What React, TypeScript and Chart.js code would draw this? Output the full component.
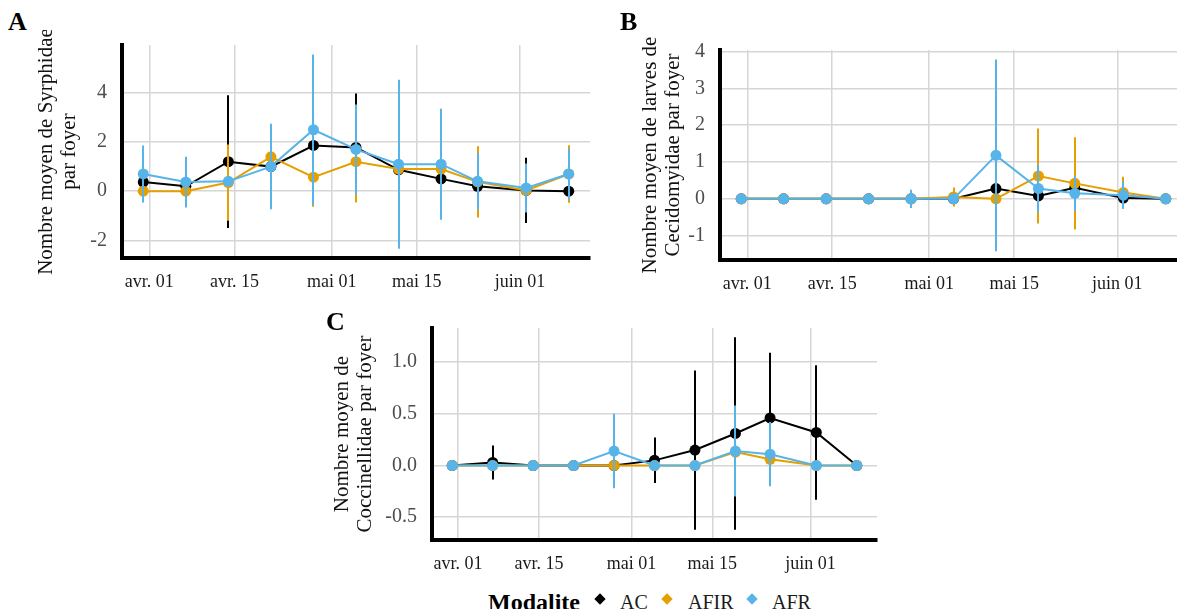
import React, { useEffect, useRef } from 'react';
import { Chart, registerables } from 'chart.js';

Chart.register(...registerables);

// ---------- data ----------
const sampleDates = [
  '2021-03-31', '2021-04-07', '2021-04-14', '2021-04-21', '2021-04-28', '2021-05-05',
  '2021-05-12', '2021-05-19', '2021-05-25', '2021-06-02', '2021-06-09',
];
const tickDates = ['2021-04-01', '2021-04-15', '2021-05-01', '2021-05-15', '2021-06-01'];
const tickLabels = ['avr. 01', 'avr. 15', 'mai 01', 'mai 15', 'juin 01'];

const seriesNames = ['AC', 'AFIR', 'AFR'];
const seriesColors = ['#000000', '#E69F00', '#56B4E9'];

// A: Syrphidae
const syrphAC = [0.37, 0.2, 1.2, 1.0, 1.86, 1.78, 0.87, 0.5, 0.2, 0.03, 0];
const syrphACsd = [0.6, 0.4, 2.7, 1.5, 2.4, 2.2, 2.0, 1.1, 0.6, 1.33, 0];
const syrphAFIR = [0, 0, 0.35, 1.4, 0.57, 1.2, 0.9, 0.9, 0.38, 0.03, 0.7];
const syrphAFIRsd = [0, 0, 1.55, 1.3, 1.2, 1.66, 1.5, 1.5, 1.45, 0.8, 1.17];
const syrphAFR = [0.7, 0.37, 0.4, 1.0, 2.5, 1.7, 1.1, 1.1, 0.4, 0.13, 0.7];
const syrphAFRsd = [1.16, 1.03, 0, 1.74, 3.06, 1.83, 3.44, 2.26, 1.15, 1.0, 1.04];
const syrphYTicks = [-2, 0, 2, 4];

// B: Cecidomyidae larvae
const cecidAC = [0, 0, 0, 0, 0, 0, 0.28, 0.08, 0.3, 0.02, 0];
const cecidACsd = [0, 0, 0, 0, 0, 0, 0.9, 0.4, 0.6, 0.15, 0];
const cecidAFIR = [0, 0, 0, 0, 0, 0.05, 0, 0.62, 0.42, 0.17, 0];
const cecidAFIRsd = [0, 0, 0, 0, 0.2, 0.26, 0, 1.29, 1.25, 0.43, 0];
const cecidAFR = [0, 0, 0, 0, 0, 0, 1.18, 0.28, 0.15, 0.1, 0];
const cecidAFRsd = [0, 0, 0, 0, 0.25, 0, 2.6, 0.64, 0.47, 0.37, 0];
const cecidYTicks = [-1, 0, 1, 2, 3, 4];

// C: Coccinellidae
const coccAC = [0, 0.03, 0, 0, 0, 0.05, 0.15, 0.31, 0.46, 0.32, 0];
const coccACsd = [0, 0.165, 0, 0, 0, 0.22, 0.77, 0.93, 0.63, 0.65, 0];
const coccAFIR = [0, 0, 0, 0, 0, 0, 0, 0.13, 0.06, 0, 0];
const coccAFIRsd = [0, 0, 0, 0, 0, 0, 0, 0.35, 0.2, 0, 0];
const coccAFR = [0, 0, 0, 0, 0.14, 0, 0, 0.14, 0.11, 0, 0];
const coccAFRsd = [0, 0, 0, 0, 0.36, 0, 0, 0.44, 0.31, 0, 0];
const coccYTicks = [-0.5, 0, 0.5, 1.0];

// ---------- helpers ----------
const FONT = "'Liberation Serif', 'Times New Roman', serif";
const dayOf = (iso: string) => {
  const [y, m, d] = iso.split('-').map(Number);
  return (Date.UTC(y, m - 1, d) - Date.UTC(2021, 3, 1)) / 86400000;
};
const sampleDays = sampleDates.map(dayOf);
const tickDays = tickDates.map(dayOf);

const errorBarPlugin = {
  id: 'errorBars',
  beforeDatasetDraw(chart: any, args: any) {
    const ds = chart.data.datasets[args.index];
    const sd: number[] = ds.sd;
    if (!sd) return;
    const { ctx, chartArea, scales } = chart;
    const xs = scales.x;
    const ys = scales.y;
    ctx.save();
    ctx.beginPath();
    ctx.rect(chartArea.left, chartArea.top, chartArea.right - chartArea.left, chartArea.bottom - chartArea.top);
    ctx.clip();
    ctx.strokeStyle = ds.borderColor;
    ctx.lineWidth = 2;
    ctx.lineCap = 'butt';
    ds.data.forEach((p: any, i: number) => {
      const e = sd[i];
      if (!e) return;
      const px = Math.round(xs.getPixelForValue(p.x));
      ctx.beginPath();
      ctx.moveTo(px, ys.getPixelForValue(p.y - e));
      ctx.lineTo(px, ys.getPixelForValue(p.y + e));
      ctx.stroke();
    });
    ctx.restore();
  },
};

type Panel = {
  title: string[];
  means: number[][];
  sds: number[][];
  yMin: number;
  yMax: number;
  yTicks: number[];
  yDec: number;
  xMin: number;
  xMax: number;
  box: { left: number; top: number; width: number; height: number };
  area: { left: number; top: number; right: number; bottom: number };
  titlePad: number;
};

const panels: Panel[] = [
  {
    title: ['Nombre moyen de Syrphidae', 'par foyer'],
    means: [syrphAC, syrphAFIR, syrphAFR],
    sds: [syrphACsd, syrphAFIRsd, syrphAFRsd],
    yMin: -2.72, yMax: 5.95, yTicks: syrphYTicks, yDec: 0,
    xMin: -4.5, xMax: 72.5,
    box: { left: 30, top: 30, width: 570, height: 275 },
    area: { left: 122, top: 45, right: 590, bottom: 258 },
    titlePad: 5,
  },
  {
    title: ['Nombre moyen de larves de', 'Cecidomyidae par foyer'],
    means: [cecidAC, cecidAFIR, cecidAFR],
    sds: [cecidACsd, cecidAFIRsd, cecidAFRsd],
    yMin: -1.66, yMax: 4.04, yTicks: cecidYTicks, yDec: 0,
    xMin: -4.5, xMax: 72.5,
    box: { left: 630, top: 30, width: 570, height: 275 },
    area: { left: 720, top: 50, right: 1187, bottom: 260 },
    titlePad: 9,
  },
  {
    title: ['Nombre moyen de', 'Coccinellidae par foyer'],
    means: [coccAC, coccAFIR, coccAFR],
    sds: [coccACsd, coccAFIRsd, coccAFRsd],
    yMin: -0.72, yMax: 1.33, yTicks: coccYTicks, yDec: 1,
    xMin: -4.5, xMax: 72.5,
    box: { left: 322, top: 315, width: 563, height: 262 },
    area: { left: 432, top: 328, right: 877, bottom: 540 },
    titlePad: 9,
  },
];

function makeConfig(p: Panel): any {
  const yWidth = p.area.left - p.box.left;
  const xHeight = p.box.top + p.box.height - p.area.bottom;
  const padTop = p.area.top - p.box.top;
  const padRight = p.box.left + p.box.width - p.area.right;
  return {
    type: 'line',
    data: {
      datasets: seriesNames.map((name, s) => ({
        label: name,
        data: sampleDays.map((x, i) => ({ x, y: p.means[s][i] })),
        sd: p.sds[s],
        borderColor: seriesColors[s],
        backgroundColor: seriesColors[s],
        borderWidth: 2,
        pointRadius: 5.5,
        pointBorderWidth: 0,
        pointHoverRadius: 5.5,
        tension: 0,
        order: 3 - s,
      })),
    },
    options: {
      responsive: false,
      animation: false,
      events: [],
      layout: { padding: { top: padTop, right: padRight, bottom: 0, left: 0 } },
      plugins: { legend: { display: false }, tooltip: { enabled: false } },
      scales: {
        x: {
          type: 'linear',
          min: p.xMin,
          max: p.xMax,
          afterBuildTicks: (s: any) => { s.ticks = tickDays.map((v) => ({ value: v })); },
          afterFit: (s: any) => {
            s.height = xHeight;
            s.paddingLeft = 0; s.paddingRight = 0; s.paddingTop = 0; s.paddingBottom = 0;
          },
          ticks: {
            callback: (_v: any, i: number) => tickLabels[i],
            font: { family: FONT, size: 18 },
            color: '#1a1a1a',
            padding: 13,
            maxRotation: 0,
            autoSkip: false,
          },
          grid: { color: '#d6d6d6', lineWidth: 1.5, drawTicks: false },
          border: { display: true, color: '#000000', width: 4 },
        },
        y: {
          type: 'linear',
          min: p.yMin,
          max: p.yMax,
          afterBuildTicks: (s: any) => { s.ticks = p.yTicks.map((v) => ({ value: v })); },
          afterFit: (s: any) => {
            s.width = yWidth;
            s.paddingLeft = 0; s.paddingRight = 0; s.paddingTop = 0; s.paddingBottom = 0;
          },
          ticks: {
            callback: (v: any) => Number(v).toFixed(p.yDec),
            font: { family: FONT, size: 20 },
            color: '#4d4d4d',
            padding: 15,
          },
          grid: { color: '#d6d6d6', lineWidth: 1.5, drawTicks: false },
          border: { display: true, color: '#000000', width: 4 },
          title: {
            display: true,
            text: p.title,
            font: { family: FONT, size: 21, lineHeight: 1.08 },
            color: '#111111',
            padding: { top: p.titlePad, bottom: 0 },
          },
        },
      },
    },
    plugins: [errorBarPlugin],
  };
}

function PanelChart({ p }: { p: Panel }) {
  const ref = useRef<HTMLCanvasElement | null>(null);
  useEffect(() => {
    if (!ref.current) return;
    const chart = new Chart(ref.current, makeConfig(p));
    return () => chart.destroy();
  }, [p]);
  return (
    <canvas
      ref={ref}
      width={p.box.width}
      height={p.box.height}
      style={{ position: 'absolute', left: p.box.left, top: p.box.top, width: p.box.width, height: p.box.height }}
    />
  );
}

const letterStyle = (left: number, top: number): React.CSSProperties => ({
  position: 'absolute', left, top, fontFamily: FONT, fontWeight: 'bold', fontSize: 26, lineHeight: 1, color: '#000',
});

export default function App() {
  const legendX = [600, 667, 752];
  const legendLabelX = [620, 688, 772];
  return (
    <div style={{ position: 'absolute', left: 0, top: 0, width: 1177, height: 609, overflow: 'hidden', background: '#fff' }}>
      {panels.map((p, i) => <PanelChart key={i} p={p} />)}
      <div style={letterStyle(8, 9)}>A</div>
      <div style={letterStyle(620, 9)}>B</div>
      <div style={letterStyle(326, 309)}>C</div>
      <div style={{ position: 'absolute', left: 488, top: 590, fontFamily: FONT, fontWeight: 'bold', fontSize: 24, lineHeight: 1, color: '#000', whiteSpace: 'nowrap' }}>Modalite</div>
      {seriesNames.map((n, i) => (
        <React.Fragment key={n}>
          <div style={{ position: 'absolute', left: legendX[i] - 4, top: 595, width: 8, height: 8, background: seriesColors[i], transform: 'rotate(45deg)' }} />
          <div style={{ position: 'absolute', left: legendLabelX[i], top: 592, fontFamily: FONT, fontSize: 20, lineHeight: 1, color: '#1a1a1a', whiteSpace: 'nowrap' }}>{n}</div>
        </React.Fragment>
      ))}
    </div>
  );
}
